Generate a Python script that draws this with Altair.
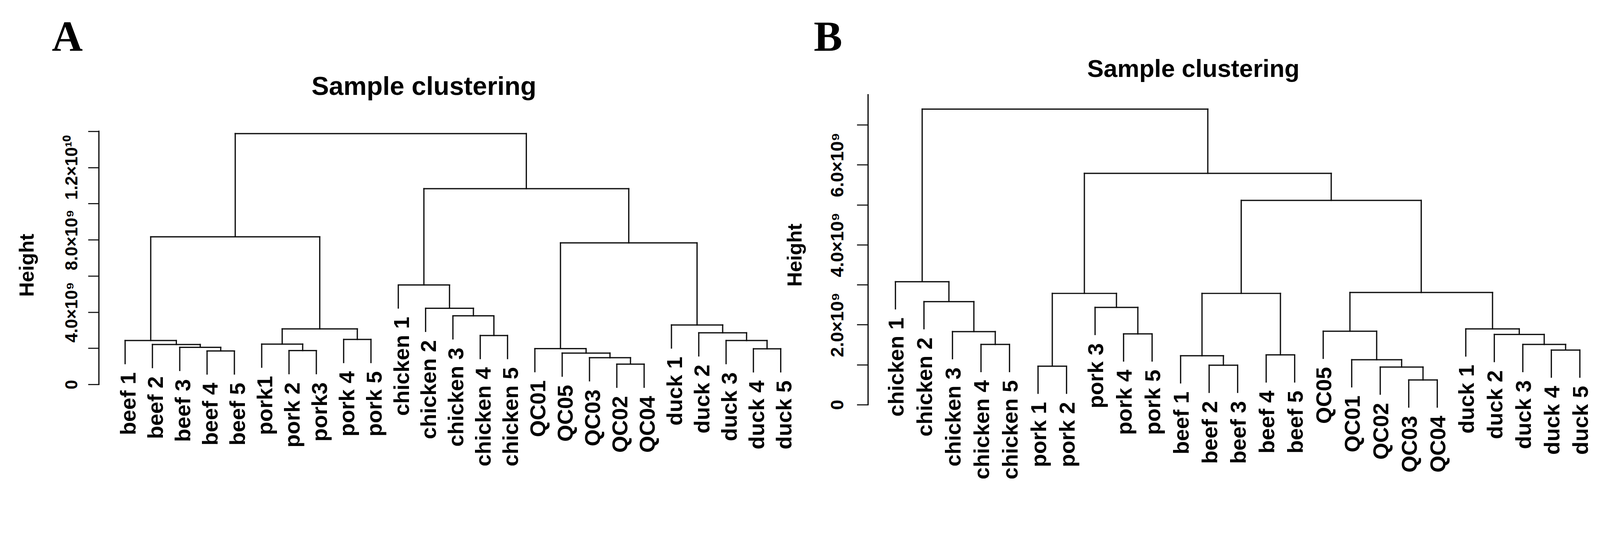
import altair as alt
import pandas as pd

# ---------------- data ----------------
# Panel A: leaf order along the x axis
A_LEAVES = ["beef 1", "beef 2", "beef 3", "beef 4", "beef 5",
            "pork1", "pork 2", "pork3", "pork 4", "pork 5",
            "chicken 1", "chicken 2", "chicken 3", "chicken 4", "chicken 5",
            "QC01", "QC05", "QC03", "QC02", "QC04",
            "duck 1", "duck 2", "duck 3", "duck 4", "duck 5"]
# merges: (left child, right child, height); int = index of an earlier merge
A_MERGES = [
    ("beef 4", "beef 5", 1.853e9),      # 0
    ("beef 3", 0, 2.051e9),             # 1
    ("beef 2", 1, 2.209e9),             # 2
    ("beef 1", 2, 2.428e9),             # 3
    ("pork 2", "pork3", 1.873e9),       # 4
    ("pork1", 4, 2.230e9),              # 5
    ("pork 4", "pork 5", 2.488e9),      # 6
    (5, 6, 3.072e9),                    # 7
    (3, 7, 8.166e9),                    # 8
    ("chicken 4", "chicken 5", 2.707e9),  # 9
    ("chicken 3", 9, 3.795e9),          # 10
    ("chicken 2", 10, 4.212e9),         # 11
    ("chicken 1", 11, 5.502e9),         # 12
    ("QC02", "QC04", 1.121e9),          # 13
    ("QC03", 13, 1.478e9),              # 14
    ("QC05", 14, 1.734e9),              # 15
    ("QC01", 15, 1.983e9),              # 16
    ("duck 4", "duck 5", 1.973e9),      # 17
    ("duck 3", 17, 2.428e9),            # 18
    ("duck 2", 18, 2.855e9),            # 19
    ("duck 1", 19, 3.290e9),            # 20
    (16, 20, 7.830e9),                  # 21
    (12, 21, 10.825e9),                 # 22
    (8, 22, 13.87e9),                   # 23
]
A_TICKS = [0, 2000000000, 4000000000, 6000000000, 8000000000,
           10000000000, 12000000000, 14000000000]
A_TICK_LABELS = ["0", "", "4.0×10⁹", "", "8.0×10⁹", "", "1.2×10¹⁰", ""]
A_AXIS_TOP = 14000000000

# Panel B
B_LEAVES = ["chicken 1", "chicken 2", "chicken 3", "chicken 4", "chicken 5",
            "pork 1", "pork 2", "pork 3", "pork 4", "pork 5",
            "beef 1", "beef 2", "beef 3", "beef 4", "beef 5",
            "QC05", "QC01", "QC02", "QC03", "QC04",
            "duck 1", "duck 2", "duck 3", "duck 4", "duck 5"]
B_MERGES = [
    ("chicken 4", "chicken 5", 1.506e9),  # 0
    ("chicken 3", 0, 1.828e9),          # 1
    ("chicken 2", 1, 2.577e9),          # 2
    ("chicken 1", 2, 3.075e9),          # 3
    ("pork 1", "pork 2", 0.963e9),      # 4
    ("pork 4", "pork 5", 1.770e9),      # 5
    ("pork 3", 5, 2.433e9),             # 6
    (4, 6, 2.783e9),                    # 7
    ("beef 2", "beef 3", 0.986e9),      # 8
    ("beef 1", 8, 1.223e9),             # 9
    ("beef 4", "beef 5", 1.246e9),      # 10
    (9, 10, 2.783e9),                   # 11
    ("QC03", "QC04", 0.618e9),          # 12
    ("QC02", 12, 0.941e9),              # 13
    ("QC01", 13, 1.124e9),              # 14
    ("QC05", 14, 1.837e9),              # 15
    ("duck 4", "duck 5", 1.366e9),      # 16
    ("duck 3", 16, 1.506e9),            # 17
    ("duck 2", 17, 1.756e9),            # 18
    ("duck 1", 18, 1.895e9),            # 19
    (15, 19, 2.805e9),                  # 20
    (11, 20, 5.109e9),                  # 21
    (7, 21, 5.786e9),                   # 22
    (3, 22, 7.392e9),                   # 23
]
B_TICKS = [0, 1000000000, 2000000000, 3000000000, 4000000000,
           5000000000, 6000000000, 7000000000]
B_TICK_LABELS = ["0", "", "2.0×10⁹", "", "4.0×10⁹", "", "6.0×10⁹", ""]
B_AXIS_TOP = 7750000000

HANG = 0.1
TITLE = "Sample clustering"
YTITLE = "Height"

# ---------------- layout / style ----------------
SANS = "Liberation Sans"
SERIF = "Liberation Serif"
INK = "#111111"
W, H = 4395, 1310   # one shared drawing area; each panel has its own scales
DY = 53             # measured vertical offset of the drawing area on the page


def dendro(leaves, merges):
    xpos = {n: i + 1 for i, n in enumerate(leaves)}
    hs = [m[2] for m in merges]
    hang_h = HANG * (max(hs) - min(hs))
    node_x, node_h, leaf_end, segs = {}, {}, {}, []
    for k, (a, b, h) in enumerate(merges):
        xs = []
        for c in (a, b):
            if isinstance(c, str):
                x, y0 = xpos[c], h - hang_h
                leaf_end[c] = y0
            else:
                x, y0 = node_x[c], node_h[c]
            segs.append({"x": x, "x2": x, "y": y0, "y2": h})
            xs.append(x)
        segs.append({"x": xs[0], "x2": xs[1], "y": h, "y2": h})
        node_x[k] = (xs[0] + xs[1]) / 2
        node_h[k] = h
    labels = [{"x": xpos[n], "y": leaf_end[n], "label": n} for n in leaves]
    return segs, labels


def label_expr(ticks, labels):
    expr = "''"
    for t, l in zip(ticks, labels):
        expr = f"datum.value == {t} ? '{l}' : " + expr
    return expr


def top_axis(title, tx, ty, font, size):
    return alt.Axis(orient="top", domain=False, ticks=False, labels=False,
                    grid=False, title=title, titleX=tx, titleY=ty,
                    titleAlign="left", titleBaseline="alphabetic",
                    titleAngle=0, titleFont=font, titleFontSize=size,
                    titleFontWeight="bold", titleColor="black",
                    minExtent=0, maxExtent=0, titlePadding=0)


def panel(letter, leaves, merges, ticks, tick_labels, axis_top, g):
    segs, labels = dendro(leaves, merges)
    n = len(leaves)
    usr_left = 1 - 0.04 * (n - 1)
    segs.append({"x": usr_left, "x2": usr_left, "y": 0, "y2": axis_top})
    seg_df = pd.DataFrame(segs)
    lab_df = pd.DataFrame(labels)

    step = g["step"]
    d0 = 1 - g["leaf1"] / step
    d1 = d0 + W / step
    ppu = g["ppu"]
    e1 = (g["zero"] - DY) / ppu
    e0 = e1 - H / ppu
    axis_px = (usr_left - d0) * step

    xscale = alt.Scale(domain=[d0, d1], nice=False, zero=False)
    yscale = alt.Scale(domain=[e0, e1], nice=False, zero=False)
    x_main = alt.X("x:Q", scale=xscale,
                   axis=top_axis(TITLE, g["tx"], g["ty"] - DY, SANS, g["tfs"]))
    x_letter = alt.X("x:Q", scale=xscale,
                     axis=top_axis(letter, g["ldx"], 133 - DY, SERIF, 118))
    y_main = alt.Y("y:Q", scale=yscale,
                   axis=alt.Axis(orient="left", values=ticks,
                                 labelExpr=label_expr(ticks, tick_labels),
                                 domain=False, grid=False, tickSize=g["ticksize"],
                                 tickWidth=3, tickColor=INK, offset=-axis_px,
                                 labelAngle=270, labelAlign="center",
                                 labelBaseline="alphabetic", labelPadding=g["lpad"],
                                 labelFont=SANS, labelFontSize=g["lfs"],
                                 labelFontWeight="bold", labelColor="black",
                                 labelOverlap=False, labelLimit=0,
                                 title=YTITLE, titleX=g["hx"], titleY=g["hy"] - DY,
                                 titleAngle=270, titleAlign="center",
                                 titleBaseline="alphabetic", titleFont=SANS,
                                 titleFontSize=56, titleFontWeight="bold",
                                 titleColor="black", minExtent=0, maxExtent=400))
    y_plain = alt.Y("y:Q", scale=yscale, axis=None)

    rules = alt.Chart(seg_df).mark_rule(color=INK, strokeWidth=3.5, strokeCap="square").encode(
        x=x_main, x2=alt.X2("x2:Q"), y=y_main, y2=alt.Y2("y2:Q"))
    texts = alt.Chart(lab_df).mark_text(angle=270, align="right", baseline="alphabetic",
                                        dx=-24, dy=g["ldy"], font=SANS, fontSize=60,
                                        fontWeight="bold", color="black").encode(
        x=x_letter, y=y_plain, text="label:N")
    return [rules, texts]


# positions (pixels from the drawing area's top-left corner, before DY)
GA = dict(step=75.33, leaf1=336.4, zero=1054.2, ppu=698.2 / 1.4e10,
          tx=850, ty=255, tfs=72, ticksize=30, lpad=30, lfs=47,
          hx=-181, hy=725, ldy=29, ldx=134)
GB = dict(step=78.64, leaf1=2460.7, zero=1110.0, ppu=110.29 / 1e9,
          tx=2989, ty=206, tfs=68, ticksize=31, lpad=38, lfs=50,
          hx=-184, hy=697, ldy=22, ldx=2235)

layers = (panel("A", A_LEAVES, A_MERGES, A_TICKS, A_TICK_LABELS, A_AXIS_TOP, GA)
          + panel("B", B_LEAVES, B_MERGES, B_TICKS, B_TICK_LABELS, B_AXIS_TOP, GB))

chart = alt.layer(*layers).resolve_scale(
    x="independent", y="independent"
).resolve_axis(
    x="independent", y="independent"
).properties(
    width=W, height=H, padding=0, background="white",
    autosize=alt.AutoSizeParams(type="none"),
).configure_view(strokeWidth=0)

chart.save("out.html", embed_options={"renderer": "svg", "actions": False})
